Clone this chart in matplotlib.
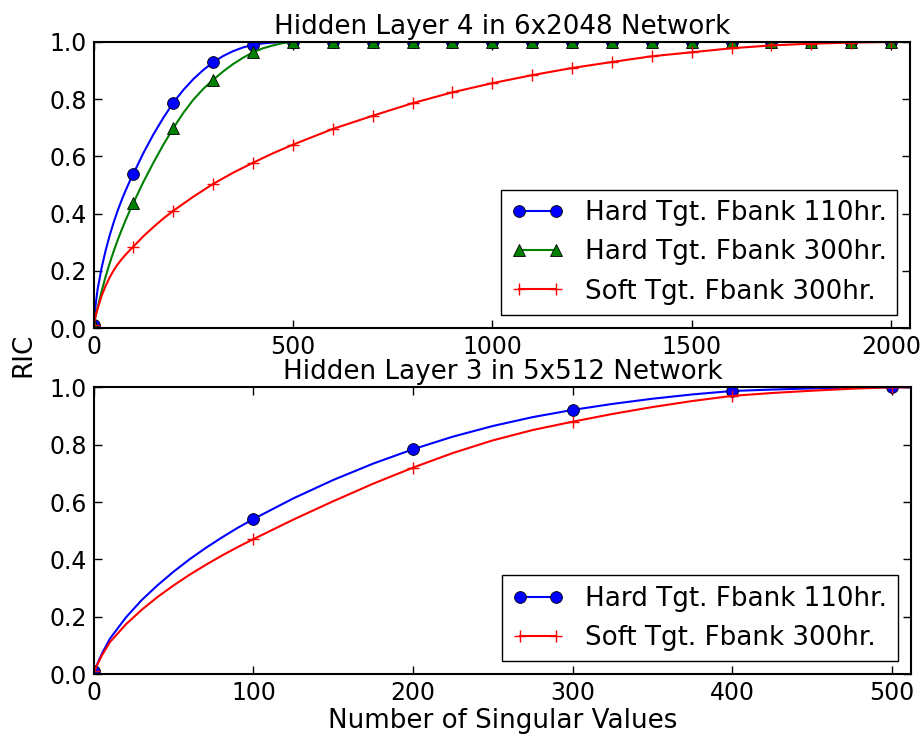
import numpy as np
import matplotlib
matplotlib.use('Agg')
import matplotlib.pyplot as plt

# top panel: hidden layer 4, 6x2048 net
x_top_hard110 = [0, 5, 10, 20, 30, 40, 50, 60, 70, 80, 90, 100, 125, 150, 175, 200,
                 225, 250, 275, 300, 325, 350, 375, 400, 425, 450, 475, 500,
                 600, 700, 800, 900, 1000, 1100, 1200, 1300, 1400, 1500, 1600,
                 1700, 1800, 1900, 2000, 2048]
ric_top_hard110 = [0.01, 0.08, 0.135, 0.21, 0.27, 0.322, 0.368, 0.409, 0.446, 0.48,
                   0.511, 0.54, 0.612, 0.677, 0.735, 0.788, 0.832, 0.87, 0.902, 0.929,
                   0.951, 0.968, 0.981, 0.99, 0.995, 0.998, 0.9995, 1.0,
                   1.0, 1.0, 1.0, 1.0, 1.0, 1.0, 1.0, 1.0, 1.0, 1.0, 1.0,
                   1.0, 1.0, 1.0, 1.0, 1.0]

x_top_hard300 = [0, 5, 10, 20, 30, 40, 50, 60, 70, 80, 90, 100, 125, 150, 175, 200,
                 225, 250, 275, 300, 325, 350, 375, 400, 425, 450, 475, 500,
                 600, 700, 800, 900, 1000, 1100, 1200, 1300, 1400, 1500, 1600,
                 1700, 1800, 1900, 2000, 2048]
ric_top_hard300 = [0.01, 0.042, 0.071, 0.128, 0.179, 0.225, 0.267, 0.306, 0.342, 0.376,
                   0.408, 0.438, 0.511, 0.578, 0.641, 0.699, 0.752, 0.798, 0.836, 0.868,
                   0.897, 0.923, 0.945, 0.964, 0.978, 0.988, 0.996, 1.0,
                   1.0, 1.0, 1.0, 1.0, 1.0, 1.0, 1.0, 1.0, 1.0, 1.0, 1.0,
                   1.0, 1.0, 1.0, 1.0, 1.0]

x_top_soft300 = [0, 5, 10, 20, 30, 40, 50, 60, 70, 80, 90, 100, 125, 150, 175, 200,
                 250, 300, 350, 400, 450, 500, 600, 700, 800, 900, 1000, 1100, 1200,
                 1300, 1400, 1500, 1600, 1700, 1800, 1900, 2000, 2048]
ric_top_soft300 = [0.01, 0.042, 0.067, 0.112, 0.147, 0.176, 0.201, 0.222, 0.24, 0.256,
                   0.271, 0.285, 0.321, 0.353, 0.383, 0.41, 0.459, 0.504, 0.543, 0.578,
                   0.611, 0.641, 0.696, 0.742, 0.786, 0.824, 0.856, 0.884, 0.909,
                   0.93, 0.95, 0.964, 0.978, 0.988, 0.994, 0.998, 1.0, 1.0]

# bottom panel: hidden layer 3, 5x512 net
x_bot_hard110 = [0, 5, 10, 20, 30, 40, 50, 60, 70, 80, 90, 100, 125, 150, 175, 200,
                 225, 250, 275, 300, 325, 350, 375, 400, 425, 450, 475, 500, 512]
ric_bot_hard110 = [0.01, 0.072, 0.124, 0.198, 0.259, 0.311, 0.358, 0.401, 0.44, 0.476,
                   0.51, 0.541, 0.613, 0.677, 0.734, 0.784, 0.828, 0.865, 0.896, 0.921,
                   0.942, 0.96, 0.975, 0.987, 0.992, 0.996, 0.999, 1.0, 1.0]

x_bot_soft300 = [0, 5, 10, 20, 30, 40, 50, 60, 70, 80, 90, 100, 125, 150, 175, 200,
                 225, 250, 275, 300, 325, 350, 375, 400, 425, 450, 475, 500, 512]
ric_bot_soft300 = [0.01, 0.066, 0.112, 0.174, 0.225, 0.27, 0.31, 0.347, 0.381, 0.413,
                   0.443, 0.471, 0.539, 0.603, 0.664, 0.72, 0.771, 0.815, 0.851, 0.88,
                   0.907, 0.931, 0.952, 0.97, 0.98, 0.988, 0.995, 1.0, 1.0]

lbl_hard110 = 'Hard Tgt. Fbank 110hr.'
lbl_hard300 = 'Hard Tgt. Fbank 300hr.'
lbl_soft300 = 'Soft Tgt. Fbank 300hr.'

plt.rcParams['font.family'] = 'DejaVu Sans'
fs = 18.8


def every100(xs):
    # markers only on the multiples of 100
    return [i for i, v in enumerate(xs) if v % 100 == 0]


def style_ax(ax):
    ax.tick_params(direction='in', length=5.5, width=1, top=True, right=True,
                   labelsize=17, pad=5)
    for s in ax.spines.values():
        s.set_linewidth(1.5)
    ax.set_ylim(0, 1.0)
    ax.set_yticks(np.arange(0, 1.01, 0.2))


fig = plt.figure(figsize=(9.24, 7.35), dpi=100)
ax1 = fig.add_axes([0.1013, 0.5537, 0.8837, 0.3892])
ax2 = fig.add_axes([0.1017, 0.0826, 0.8839, 0.3905])

lw = 1.5
ax1.plot(x_top_hard110, ric_top_hard110, color='b', lw=lw, marker='o', ms=8.5,
         mec='k', mew=0.6, markevery=every100(x_top_hard110), label=lbl_hard110)
ax1.plot(x_top_hard300, ric_top_hard300, color='g', lw=lw, marker='^', ms=8.5,
         mec='k', mew=0.6, markevery=every100(x_top_hard300), label=lbl_hard300)
ax1.plot(x_top_soft300, ric_top_soft300, color='r', lw=lw, marker='+', ms=9,
         mew=1, markevery=every100(x_top_soft300), label=lbl_soft300)
ax1.set_xlim(0, 2048)
ax1.set_xticks([0, 500, 1000, 1500, 2000])
style_ax(ax1)
ax1.set_title('Hidden Layer 4 in 6x2048 Network', fontsize=fs, pad=6)

ax2.plot(x_bot_hard110, ric_bot_hard110, color='b', lw=lw, marker='o', ms=8.5,
         mec='k', mew=0.6, markevery=every100(x_bot_hard110), label=lbl_hard110)
ax2.plot(x_bot_soft300, ric_bot_soft300, color='r', lw=lw, marker='+', ms=9,
         mew=1, markevery=every100(x_bot_soft300), label=lbl_soft300)
ax2.set_xlim(0, 512)
ax2.set_xticks([0, 100, 200, 300, 400, 500])
style_ax(ax2)
ax2.set_title('Hidden Layer 3 in 5x512 Network', fontsize=fs, pad=6)
ax2.set_xlabel('Number of Singular Values', fontsize=fs, labelpad=2)

for ax in (ax1, ax2):
    leg = ax.legend(loc='lower right', fontsize=fs, numpoints=2, fancybox=False,
                    framealpha=1, edgecolor='k', borderpad=0.4, labelspacing=0.5,
                    handlelength=2.0, handletextpad=0.8, borderaxespad=0.5)
    leg.get_frame().set_linewidth(1.0)

fig.text(0.025, 0.517, 'RIC', rotation=90, fontsize=fs, ha='center', va='center')

fig.savefig('out.png', dpi=100)
